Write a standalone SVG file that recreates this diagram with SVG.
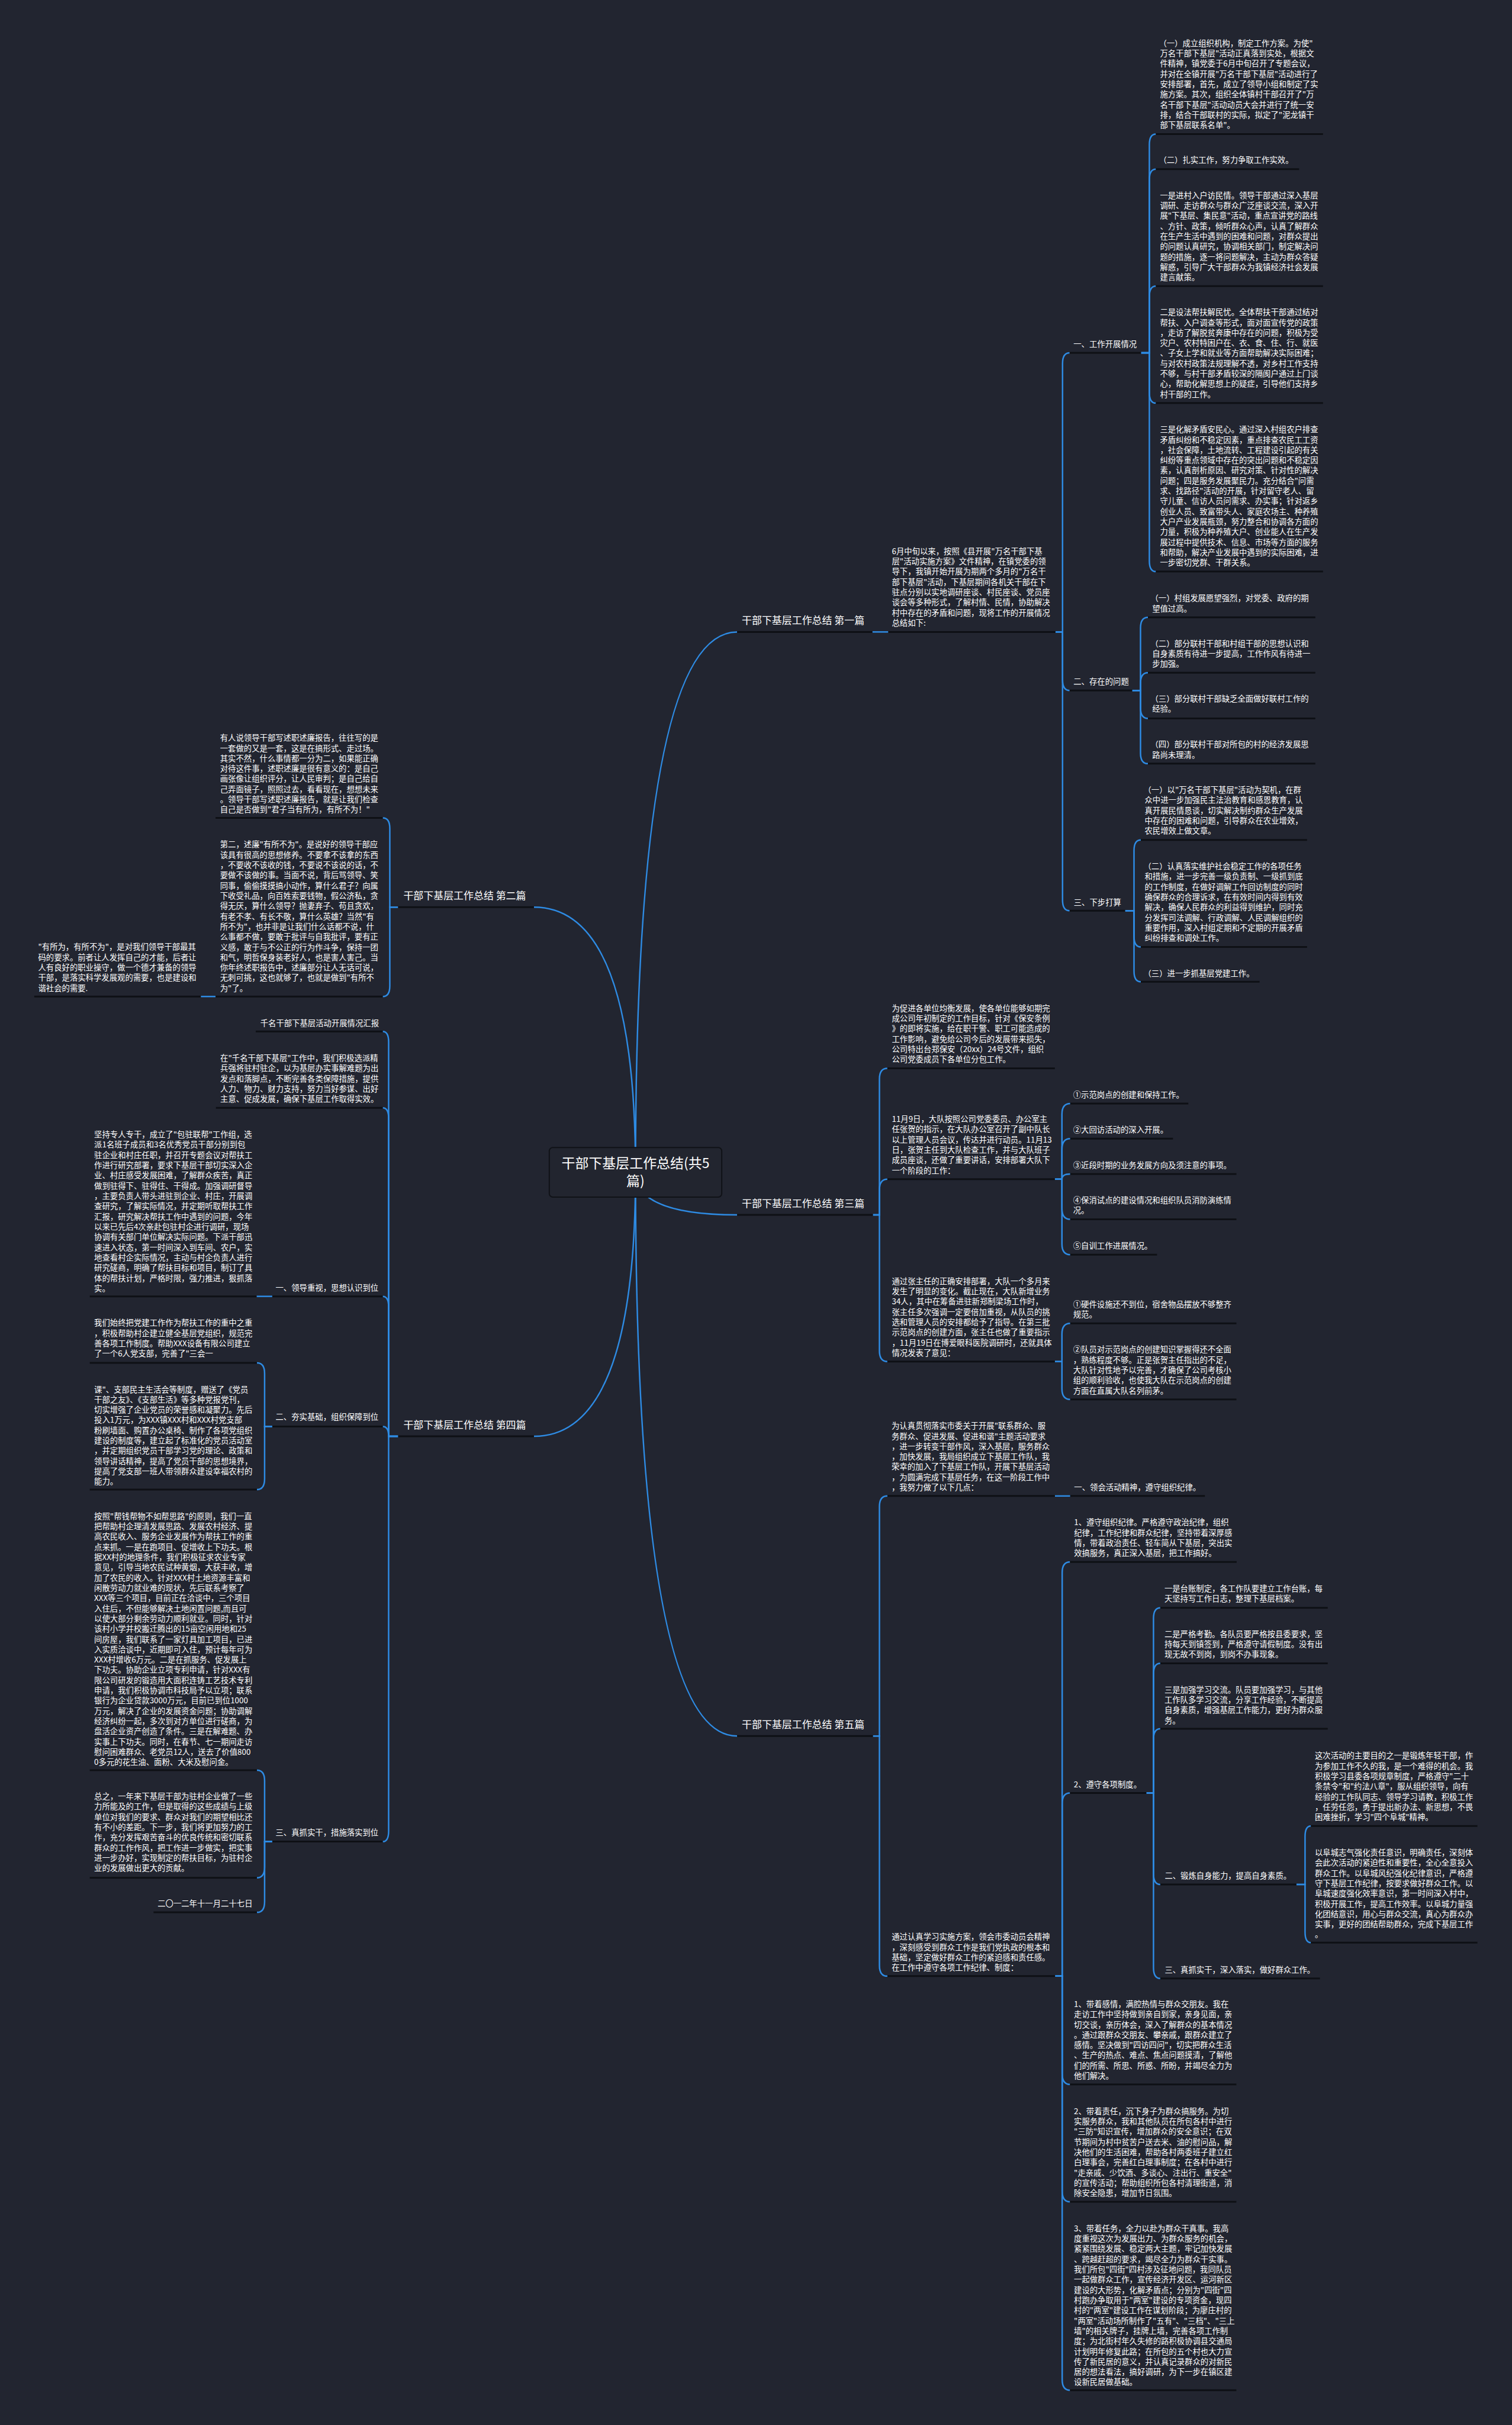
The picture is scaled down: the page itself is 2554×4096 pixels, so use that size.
<svg xmlns="http://www.w3.org/2000/svg" width="2554" height="4096" viewBox="0 0 2554 4096">
<style>
.t{font-family:"Noto Sans CJK SC","Noto Sans",sans-serif;font-size:13.4px;fill:#ffffff}
.l1{font-size:17px}
.rt{font-size:23px}
.ul{stroke:#0e1015;stroke-width:3}
.c{stroke:#2e8be3;stroke-width:2.5;fill:none}
</style>
<rect x="0" y="0" width="2554" height="4096" fill="#222530"/>
<g transform="scale(0.99766 0.99756)">
<g id="connectors">
<path class="c" d="M1076 1985 Q1076 1070 1248 1070"/>
<path class="c" d="M1076 1985 Q1076 2057 1248 2057"/>
<path class="c" d="M1076 1985 Q1076 2939.5 1248 2939.5"/>
<path class="c" d="M1076 1985 Q1076 1536 904 1536"/>
<path class="c" d="M1076 1985 Q1076 2432 904 2432"/>
<path class="c" d="M1477 1070 H1504"/>
<path class="c" d="M1787 1070 H1799 V615.5 Q1799 597.5 1811 597.5"/>
<path class="c" d="M1787 1070 H1799 V1151 Q1799 1169 1811 1169"/>
<path class="c" d="M1787 1070 H1799 V1524 Q1799 1542 1811 1542"/>
<path class="c" d="M1932 597.5 H1946 V245 Q1946 227 1957 227"/>
<path class="c" d="M1932 597.5 H1946 V304.5 Q1946 286.5 1957 286.5"/>
<path class="c" d="M1932 597.5 H1946 V502.5 Q1946 484.5 1957 484.5"/>
<path class="c" d="M1932 597.5 H1946 V664.5 Q1946 682.5 1957 682.5"/>
<path class="c" d="M1932 597.5 H1946 V949.7 Q1946 967.7 1957 967.7"/>
<path class="c" d="M1917 1169 H1931 V1063.3 Q1931 1045.3 1943.6 1045.3"/>
<path class="c" d="M1917 1169 H1931 V1157 Q1931 1139 1943.6 1139"/>
<path class="c" d="M1917 1169 H1931 V1198.4 Q1931 1216.4 1943.6 1216.4"/>
<path class="c" d="M1917 1169 H1931 V1275 Q1931 1293 1943.6 1293"/>
<path class="c" d="M1905 1542 H1920 V1440.3 Q1920 1422.3 1931.5 1422.3"/>
<path class="c" d="M1905 1542 H1920 V1585.3 Q1920 1603.3 1931.5 1603.3"/>
<path class="c" d="M1905 1542 H1920 V1644.3 Q1920 1662.3 1931.5 1662.3"/>
<path class="c" d="M1478 2057 H1489 V1826.8 Q1489 1808.8 1502.4 1808.8"/>
<path class="c" d="M1478 2057 H1489 V2014.6 Q1489 1996.6 1502.4 1996.6"/>
<path class="c" d="M1478 2057 H1489 V2287.3 Q1489 2305.3 1502.4 2305.3"/>
<path class="c" d="M1786 1996.6 H1798 V1886.6 Q1798 1868.6 1812 1868.6"/>
<path class="c" d="M1786 1996.6 H1798 V1946 Q1798 1928 1812 1928"/>
<path class="c" d="M1786 1996.6 H1798 Q1798 1987.9 1812 1987.9"/>
<path class="c" d="M1786 1996.6 H1798 V2046.6 Q1798 2064.6 1812 2064.6"/>
<path class="c" d="M1786 1996.6 H1798 V2106.5 Q1798 2124.5 1812 2124.5"/>
<path class="c" d="M1786 2305.3 H1798 V2258.7 Q1798 2240.7 1812 2240.7"/>
<path class="c" d="M1786 2305.3 H1798 V2351.5 Q1798 2369.5 1812 2369.5"/>
<path class="c" d="M1478 2939.5 H1489 V2551 Q1489 2533 1502.5 2533"/>
<path class="c" d="M1478 2939.5 H1489 V3328 Q1489 3346 1502.5 3346"/>
<path class="c" d="M1786 2533 H1812"/>
<path class="c" d="M1786.4 3346 H1798.4 V2662.8 Q1798.4 2644.8 1811.6 2644.8"/>
<path class="c" d="M1786.4 3346 H1798.4 V3054 Q1798.4 3036 1811.6 3036"/>
<path class="c" d="M1786.4 3346 H1798.4 V3511.4 Q1798.4 3529.4 1811.6 3529.4"/>
<path class="c" d="M1786.4 3346 H1798.4 V3710 Q1798.4 3728 1811.6 3728"/>
<path class="c" d="M1786.4 3346 H1798.4 V4029.2 Q1798.4 4047.2 1811.6 4047.2"/>
<path class="c" d="M1941 3036 H1953 V2740.3 Q1953 2722.3 1964.5 2722.3"/>
<path class="c" d="M1941 3036 H1953 V2834.3 Q1953 2816.3 1964.5 2816.3"/>
<path class="c" d="M1941 3036 H1953 V2945.2 Q1953 2927.2 1964.5 2927.2"/>
<path class="c" d="M1941 3036 H1953 V3172.7 Q1953 3190.7 1964.5 3190.7"/>
<path class="c" d="M1941 3036 H1953 V3332 Q1953 3350 1964.5 3350"/>
<path class="c" d="M2195 3190.7 H2209.6 V3109.7 Q2209.6 3091.7 2219.5 3091.7"/>
<path class="c" d="M2195 3190.7 H2209.6 V3271.3 Q2209.6 3289.3 2219.5 3289.3"/>
<path class="c" d="M674 1536 H660 V1403 Q660 1385 648 1385"/>
<path class="c" d="M674 1536 H660 V1669.3 Q660 1687.3 648 1687.3"/>
<path class="c" d="M365 1687.3 H340"/>
<path class="c" d="M674 2432 H658 V1764.4 Q658 1746.4 648 1746.4"/>
<path class="c" d="M674 2432 H658 V1893.8 Q658 1875.8 648 1875.8"/>
<path class="c" d="M674 2432 H658 V2213 Q658 2195 648 2195"/>
<path class="c" d="M674 2432 H658 Q658 2415.3 648 2415.3"/>
<path class="c" d="M674 2432 H658 V3100.2 Q658 3118.2 648 3118.2"/>
<path class="c" d="M461 2195 H434.4"/>
<path class="c" d="M461 2415.3 H448 V2325.7 Q448 2307.7 435 2307.7"/>
<path class="c" d="M461 2415.3 H448 V2504.2 Q448 2522.2 435 2522.2"/>
<path class="c" d="M461 3118.2 H448 V3015.3 Q448 2997.3 435 2997.3"/>
<path class="c" d="M461 3118.2 H448 V3161.4 Q448 3179.4 435 3179.4"/>
<path class="c" d="M461 3118.2 H448 V3220 Q448 3238 435 3238"/>
</g>

<g id="root">
<rect x="930" y="1943" width="292" height="84" rx="6" fill="#22252f" stroke="#101217" stroke-width="2"/>
<text class="t rt" x="1076" y="1978" text-anchor="middle">干部下基层工作总结(共5</text>
<text class="t rt" x="1076" y="2008" text-anchor="middle">篇)</text>
</g>

<!-- 第一篇 -->
<g id="p1">
<line class="ul" x1="1248" y1="1070" x2="1477" y2="1070"/>
<text class="t l1" x="1256" y="1056.5">干部下基层工作总结 第一篇</text>
</g>
<g id="p1-intro">
<line class="ul" x1="1504" y1="1070" x2="1787" y2="1070"/>
<text class="t" x="1510" y="938"><tspan x="1510" dy="0">6月中旬以来，按照《县开展"万名干部下基</tspan><tspan x="1510" dy="17.35">层"活动实施方案》文件精神，在镇党委的领</tspan><tspan x="1510" dy="17.35">导下，我镇开始开展为期两个多月的"万名干</tspan><tspan x="1510" dy="17.35">部下基层"活动，下基层期间各机关干部在下</tspan><tspan x="1510" dy="17.35">驻点分别以实地调研座谈、村民座谈、党员座</tspan><tspan x="1510" dy="17.35">谈会等多种形式，了解村情、民情，协助解决</tspan><tspan x="1510" dy="17.35">村中存在的矛盾和问题，现将工作的开展情况</tspan><tspan x="1510" dy="17.35">总结如下:</tspan></text>
</g>
<g id="p1-a">
<line class="ul" x1="1811" y1="597.5" x2="1932" y2="597.5"/>
<text class="t" x="1817.5" y="587">一、工作开展情况</text>
</g>
<g id="p1-a1">
<line class="ul" x1="1957" y1="227" x2="2240" y2="227"/>
<text class="t" x="1962" y="78"><tspan x="1962" dy="0">（一）成立组织机构，制定工作方案。为使"</tspan><tspan x="1964" dy="17.35">万名干部下基层"活动正真落到实处，根据文</tspan><tspan x="1964" dy="17.35">件精神，镇党委于6月中旬召开了专题会议，</tspan><tspan x="1964" dy="17.35">并对在全镇开展"万名干部下基层"活动进行了</tspan><tspan x="1964" dy="17.35">安排部署，首先，成立了领导小组和制定了实</tspan><tspan x="1964" dy="17.35">施方案。其次，组织全体镇村干部召开了"万</tspan><tspan x="1964" dy="17.35">名干部下基层"活动动员大会并进行了统一安</tspan><tspan x="1964" dy="17.35">排，结合干部联村的实际，拟定了"泥龙镇干</tspan><tspan x="1964" dy="17.35">部下基层联系名单"。</tspan></text>
</g>
<g id="p1-a2">
<line class="ul" x1="1957" y1="286.5" x2="2199.5" y2="286.5"/>
<text class="t" x="1962" y="276">（二）扎实工作，努力争取工作实效。</text>
</g>
<g id="p1-a3">
<line class="ul" x1="1957" y1="484.5" x2="2240" y2="484.5"/>
<text class="t" x="1964" y="335.5"><tspan x="1964" dy="0">一是进村入户访民情。领导干部通过深入基层</tspan><tspan x="1964" dy="17.35">调研、走访群众与群众广泛座谈交流，深入开</tspan><tspan x="1964" dy="17.35">展"下基层、集民意"活动，重点宣讲党的路线</tspan><tspan x="1964" dy="17.35">、方针、政策，倾听群众心声，认真了解群众</tspan><tspan x="1964" dy="17.35">在生产生活中遇到的困难和问题，对群众提出</tspan><tspan x="1964" dy="17.35">的问题认真研究，协调相关部门，制定解决问</tspan><tspan x="1964" dy="17.35">题的措施，逐一将问题解决，主动为群众答疑</tspan><tspan x="1964" dy="17.35">解惑，引导广大干部群众为我镇经济社会发展</tspan><tspan x="1964" dy="17.35">建言献策。</tspan></text>
</g>
<g id="p1-a4">
<line class="ul" x1="1957" y1="682.5" x2="2240" y2="682.5"/>
<text class="t" x="1964" y="533.5"><tspan x="1964" dy="0">二是设法帮扶解民忧。全体帮扶干部通过结对</tspan><tspan x="1964" dy="17.35">帮扶、入户调查等形式，面对面宣传党的政策</tspan><tspan x="1964" dy="17.35">，走访了解脱贫奔康中存在的问题，积极为受</tspan><tspan x="1964" dy="17.35">灾户、农村特困户在、衣、食、住、行、就医</tspan><tspan x="1964" dy="17.35">、子女上学和就业等方面帮助解决实际困难；</tspan><tspan x="1964" dy="17.35">与对农村政策法规理解不透，对乡村工作支持</tspan><tspan x="1964" dy="17.35">不够，与村干部矛盾较深的隔阂户通过上门谈</tspan><tspan x="1964" dy="17.35">心，帮助化解思想上的疑症，引导他们支持乡</tspan><tspan x="1964" dy="17.35">村干部的工作。</tspan></text>
</g>
<g id="p1-a5">
<line class="ul" x1="1957" y1="967.7" x2="2240" y2="967.7"/>
<text class="t" x="1964" y="732"><tspan x="1964" dy="0">三是化解矛盾安民心。通过深入村组农户排查</tspan><tspan x="1964" dy="17.35">矛盾纠纷和不稳定因素，重点排查农民工工资</tspan><tspan x="1964" dy="17.35">，社会保障，土地流转、工程建设引起的有关</tspan><tspan x="1964" dy="17.35">纠纷等重点领域中存在的突出问题和不稳定因</tspan><tspan x="1964" dy="17.35">素，认真剖析原因、研究对策、针对性的解决</tspan><tspan x="1964" dy="17.35">问题；四是服务发展聚民力。充分结合"问需</tspan><tspan x="1964" dy="17.35">求、找路径"活动的开展，针对留守老人、留</tspan><tspan x="1964" dy="17.35">守儿童、信访人员问需求、办实事；针对返乡</tspan><tspan x="1964" dy="17.35">创业人员、致富带头人、家庭农场主、种养殖</tspan><tspan x="1964" dy="17.35">大户产业发展瓶颈，努力整合和协调各方面的</tspan><tspan x="1964" dy="17.35">力量，积极为种养殖大户、创业能人在生产发</tspan><tspan x="1964" dy="17.35">展过程中提供技术、信息、市场等方面的服务</tspan><tspan x="1964" dy="17.35">和帮助，解决产业发展中遇到的实际困难，进</tspan><tspan x="1964" dy="17.35">一步密切党群、干群关系。</tspan></text>
</g>
<g id="p1-b">
<line class="ul" x1="1811" y1="1169" x2="1917" y2="1169"/>
<text class="t" x="1817.5" y="1159">二、存在的问题</text>
</g>
<g id="p1-b1">
<line class="ul" x1="1943.6" y1="1045.3" x2="2227" y2="1045.3"/>
<text class="t" x="1948" y="1017.8"><tspan x="1948" dy="0">（一）村组发展愿望强烈，对党委、政府的期</tspan><tspan x="1950.7" dy="17.35">望值过高。</tspan></text>
</g>
<g id="p1-b2">
<line class="ul" x1="1943.6" y1="1139" x2="2227" y2="1139"/>
<text class="t" x="1948" y="1094.3"><tspan x="1948" dy="0">（二）部分联村干部和村组干部的思想认识和</tspan><tspan x="1950.7" dy="17.35">自身素质有待进一步提高，工作作风有待进一</tspan><tspan x="1950.7" dy="17.35">步加强。</tspan></text>
</g>
<g id="p1-b3">
<line class="ul" x1="1943.6" y1="1216.4" x2="2227" y2="1216.4"/>
<text class="t" x="1948" y="1188"><tspan x="1948" dy="0">（三）部分联村干部缺乏全面做好联村工作的</tspan><tspan x="1950.7" dy="17.35">经验。</tspan></text>
</g>
<g id="p1-b4">
<line class="ul" x1="1943.6" y1="1293" x2="2227" y2="1293"/>
<text class="t" x="1948" y="1265.4"><tspan x="1948" dy="0">（四）部分联村干部对所包的村的经济发展思</tspan><tspan x="1950.7" dy="17.35">路尚未理清。</tspan></text>
</g>
<g id="p1-c">
<line class="ul" x1="1811" y1="1542" x2="1905" y2="1542"/>
<text class="t" x="1818" y="1532.5">三、下步打算</text>
</g>
<g id="p1-c1">
<line class="ul" x1="1931.5" y1="1422.3" x2="2213" y2="1422.3"/>
<text class="t" x="1936" y="1342.3"><tspan x="1936" dy="0">（一）以"万名干部下基层"活动为契机，在群</tspan><tspan x="1938" dy="17.35">众中进一步加强民主法治教育和感恩教育，认</tspan><tspan x="1938" dy="17.35">真开展民情恳谈，切实解决制约群众生产发展</tspan><tspan x="1938" dy="17.35">中存在的困难和问题，引导群众在农业增效，</tspan><tspan x="1938" dy="17.35">农民增效上做文章。</tspan></text>
</g>
<g id="p1-c2">
<line class="ul" x1="1931.5" y1="1603.3" x2="2213" y2="1603.3"/>
<text class="t" x="1936" y="1471.7"><tspan x="1936" dy="0">（二）认真落实维护社会稳定工作的各项任务</tspan><tspan x="1938" dy="17.35">和措施，进一步完善一级负责制、一级抓到底</tspan><tspan x="1938" dy="17.35">的工作制度，在做好调解工作回访制度的同时</tspan><tspan x="1938" dy="17.35">确保群众的合理诉求，在有效时间内得到有效</tspan><tspan x="1938" dy="17.35">解决，确保人民群众的利益得到维护，同时充</tspan><tspan x="1938" dy="17.35">分发挥司法调解、行政调解、人民调解组织的</tspan><tspan x="1938" dy="17.35">重要作用，深入村组定期和不定期的开展矛盾</tspan><tspan x="1938" dy="17.35">纠纷排查和调处工作。</tspan></text>
</g>
<g id="p1-c3">
<line class="ul" x1="1931.5" y1="1662.3" x2="2132.6" y2="1662.3"/>
<text class="t" x="1936" y="1652.7">（三）进一步抓基层党建工作。</text>
</g>

<!-- 第三篇 -->
<g id="p3">
<line class="ul" x1="1248" y1="2057" x2="1478" y2="2057"/>
<text class="t l1" x="1256" y="2043.5">干部下基层工作总结 第三篇</text>
</g>
<g id="p3-a">
<line class="ul" x1="1502.4" y1="1808.8" x2="1786" y2="1808.8"/>
<text class="t" x="1510" y="1711.9"><tspan x="1510" dy="0">为促进各单位均衡发展，使各单位能够如期完</tspan><tspan x="1510" dy="17.35">成公司年初制定的工作目标，针对《保安条例</tspan><tspan x="1510" dy="17.35">》的即将实施，给在职干警、职工可能造成的</tspan><tspan x="1510" dy="17.35">工作影响，避免给公司今后的发展带来损失，</tspan><tspan x="1510" dy="17.35">公司特出台郑保安（20xx）24号文件，组织</tspan><tspan x="1510" dy="17.35">公司党委成员下各单位分包工作。</tspan></text>
</g>
<g id="p3-b">
<line class="ul" x1="1502.4" y1="1996.6" x2="1786" y2="1996.6"/>
<text class="t" x="1510" y="1899.7"><tspan x="1510" dy="0">11月9日，大队按照公司党委委员、办公室主</tspan><tspan x="1510" dy="17.35">任张贺的指示，在大队办公室召开了副中队长</tspan><tspan x="1510" dy="17.35">以上管理人员会议，传达并进行动员。11月13</tspan><tspan x="1510" dy="17.35">日，张贺主任到大队检查工作，并与大队班子</tspan><tspan x="1510" dy="17.35">成员座谈，还做了重要讲话，安排部署大队下</tspan><tspan x="1510" dy="17.35">一个阶段的工作：</tspan></text>
</g>
<g id="p3-b1">
<line class="ul" x1="1812" y1="1868.6" x2="2012" y2="1868.6"/>
<text class="t" x="1817" y="1858.5">①示范岗点的创建和保持工作。</text>
</g>
<g id="p3-b2">
<line class="ul" x1="1812" y1="1928" x2="1986" y2="1928"/>
<text class="t" x="1817" y="1917.9">②大回访活动的深入开展。</text>
</g>
<g id="p3-b3">
<line class="ul" x1="1812" y1="1987.9" x2="2093.4" y2="1987.9"/>
<text class="t" x="1817" y="1977.7">③近段时期的业务发展方向及须注意的事项。</text>
</g>
<g id="p3-b4">
<line class="ul" x1="1812" y1="2064.6" x2="2093.4" y2="2064.6"/>
<text class="t" x="1817" y="2037"><tspan x="1817" dy="0">④保消试点的建设情况和组织队员消防演练情</tspan><tspan x="1817" dy="17.35">况。</tspan></text>
</g>
<g id="p3-b5">
<line class="ul" x1="1812" y1="2124.5" x2="1959" y2="2124.5"/>
<text class="t" x="1817" y="2114.3">⑤自训工作进展情况。</text>
</g>
<g id="p3-c">
<line class="ul" x1="1502.4" y1="2305.3" x2="1786" y2="2305.3"/>
<text class="t" x="1510" y="2174.2"><tspan x="1510" dy="0">通过张主任的正确安排部署，大队一个多月来</tspan><tspan x="1510" dy="17.35">发生了明显的变化。截止现在，大队新增业务</tspan><tspan x="1510" dy="17.35">34人，其中在筹备进驻新郑制梁场工作时，</tspan><tspan x="1510" dy="17.35">张主任多次强调一定要倍加重视，从队员的挑</tspan><tspan x="1510" dy="17.35">选和管理人员的安排都给予了指导。在第三批</tspan><tspan x="1510" dy="17.35">示范岗点的创建方面，张主任也做了重要指示</tspan><tspan x="1510" dy="17.35">，11月19日在博爱眼科医院调研时，还就具体</tspan><tspan x="1510" dy="17.35">情况发表了意见：</tspan></text>
</g>
<g id="p3-c1">
<line class="ul" x1="1812" y1="2240.7" x2="2093.4" y2="2240.7"/>
<text class="t" x="1817" y="2213.2"><tspan x="1817" dy="0">①硬件设施还不到位，宿舍物品摆放不够整齐</tspan><tspan x="1817" dy="17.35">规范。</tspan></text>
</g>
<g id="p3-c2">
<line class="ul" x1="1812" y1="2369.5" x2="2093.4" y2="2369.5"/>
<text class="t" x="1817" y="2290"><tspan x="1817" dy="0">②队员对示范岗点的创建知识掌握得还不全面</tspan><tspan x="1817" dy="17.35">，熟练程度不够。正是张贺主任指出的不足，</tspan><tspan x="1817" dy="17.35">大队针对性地予以完善，才确保了公司考核小</tspan><tspan x="1817" dy="17.35">组的顺利验收，也使我大队在示范岗点的创建</tspan><tspan x="1817" dy="17.35">方面在直属大队名列前茅。</tspan></text>
</g>

<!-- 第五篇 -->
<g id="p5">
<line class="ul" x1="1248" y1="2939.5" x2="1478" y2="2939.5"/>
<text class="t l1" x="1256" y="2926">干部下基层工作总结 第五篇</text>
</g>
<g id="p5-a">
<line class="ul" x1="1502.5" y1="2533" x2="1786" y2="2533"/>
<text class="t" x="1509.5" y="2419.1"><tspan x="1509.5" dy="0">为认真贯彻落实市委关于开展"联系群众、服</tspan><tspan x="1509.5" dy="17.35">务群众、促进发展、促进和谐"主题活动要求</tspan><tspan x="1509.5" dy="17.35">，进一步转变干部作风，深入基层，服务群众</tspan><tspan x="1509.5" dy="17.35">，加快发展，我局组织成立下基层工作队，我</tspan><tspan x="1509.5" dy="17.35">荣幸的加入了下基层工作队，开展下基层活动</tspan><tspan x="1509.5" dy="17.35">，为圆满完成下基层任务，在这一阶段工作中</tspan><tspan x="1509.5" dy="17.35">，我努力做了以下几点：</tspan></text>
</g>
<g id="p5-a1">
<line class="ul" x1="1812" y1="2533" x2="2040" y2="2533"/>
<text class="t" x="1818.6" y="2523.5">一、领会活动精神，遵守组织纪律。</text>
</g>
<g id="p5-b">
<line class="ul" x1="1502.5" y1="3346" x2="1786.4" y2="3346"/>
<text class="t" x="1509.8" y="3284.3"><tspan x="1509.8" dy="0">通过认真学习实施方案，领会市委动员会精神</tspan><tspan x="1509.8" dy="17.35">，深刻感受到群众工作是我们党执政的根本和</tspan><tspan x="1509.8" dy="17.35">基础，坚定做好群众工作的紧迫感和责任感。</tspan><tspan x="1509.8" dy="17.35">在工作中遵守各项工作纪律、制度：</tspan></text>
</g>
<g id="p5-b1">
<line class="ul" x1="1811.6" y1="2644.8" x2="2093.8" y2="2644.8"/>
<text class="t" x="1818.5" y="2582.7"><tspan x="1818.5" dy="0">1、遵守组织纪律。严格遵守政治纪律，组织</tspan><tspan x="1818.5" dy="17.35">纪律，工作纪律和群众纪律，坚持带着深厚感</tspan><tspan x="1818.5" dy="17.35">情，带着政治责任、轻车简从下基层，突出实</tspan><tspan x="1818.5" dy="17.35">效搞服务，真正深入基层，把工作搞好。</tspan></text>
</g>
<g id="p5-b2">
<line class="ul" x1="1811.6" y1="3036" x2="1941" y2="3036"/>
<text class="t" x="1818" y="3026">2、遵守各项制度。</text>
</g>
<g id="p5-b2a">
<line class="ul" x1="1964.5" y1="2722.3" x2="2248" y2="2722.3"/>
<text class="t" x="1971.5" y="2694.6"><tspan x="1971.5" dy="0">一是台账制定，各工作队要建立工作台账，每</tspan><tspan x="1971.5" dy="17.35">天坚持写工作日志，整理下基层档案。</tspan></text>
</g>
<g id="p5-b2b">
<line class="ul" x1="1964.5" y1="2816.3" x2="2248" y2="2816.3"/>
<text class="t" x="1971.5" y="2771.4"><tspan x="1971.5" dy="0">二是严格考勤。各队员要严格按县委要求，坚</tspan><tspan x="1971.5" dy="17.35">持每天到镇签到，严格遵守请假制度。没有出</tspan><tspan x="1971.5" dy="17.35">现无故不到岗，到岗不办事现象。</tspan></text>
</g>
<g id="p5-b2c">
<line class="ul" x1="1964.5" y1="2927.2" x2="2248" y2="2927.2"/>
<text class="t" x="1971.5" y="2865.7"><tspan x="1971.5" dy="0">三是加强学习交流。队员要加强学习，与其他</tspan><tspan x="1971.5" dy="17.35">工作队多学习交流，分享工作经验，不断提高</tspan><tspan x="1971.5" dy="17.35">自身素质，增强基层工作能力，更好为群众服</tspan><tspan x="1971.5" dy="17.35">务。</tspan></text>
</g>
<g id="p5-b2d">
<line class="ul" x1="1964.5" y1="3190.7" x2="2195" y2="3190.7"/>
<text class="t" x="1972" y="3181">二、锻炼自身能力，提高自身素质。</text>
</g>
<g id="p5-b2d1">
<line class="ul" x1="2219.5" y1="3091.7" x2="2501.4" y2="3091.7"/>
<text class="t" x="2226.2" y="2977.7"><tspan x="2226.2" dy="0">这次活动的主要目的之一是锻炼年轻干部，作</tspan><tspan x="2226.2" dy="17.35">为参加工作不久的我，是一个难得的机会。我</tspan><tspan x="2226.2" dy="17.35">积极学习县委各项规章制度，严格遵守"二十</tspan><tspan x="2226.2" dy="17.35">条禁令"和"约法八章"，服从组织领导，向有</tspan><tspan x="2226.2" dy="17.35">经验的工作队同志、领导学习请教，积极工作</tspan><tspan x="2226.2" dy="17.35">，任劳任怨，勇于提出新办法、新思想，不畏</tspan><tspan x="2226.2" dy="17.35">困难挫折，学习"四个阜城"精神。</tspan></text>
</g>
<g id="p5-b2d2">
<line class="ul" x1="2219.5" y1="3289.3" x2="2501.4" y2="3289.3"/>
<text class="t" x="2226.2" y="3141.7"><tspan x="2226.2" dy="0">以阜城志气强化责任意识，明确责任，深刻体</tspan><tspan x="2226.2" dy="17.35">会此次活动的紧迫性和重要性，全心全意投入</tspan><tspan x="2226.2" dy="17.35">群众工作。以阜城风纪强化纪律意识，严格遵</tspan><tspan x="2226.2" dy="17.35">守下基层工作纪律，按要求做好群众工作。以</tspan><tspan x="2226.2" dy="17.35">阜城速度强化效率意识，第一时间深入村中，</tspan><tspan x="2226.2" dy="17.35">积极开展工作，提高工作效率。以阜城力量强</tspan><tspan x="2226.2" dy="17.35">化团结意识，用心与群众交流，真心为群众办</tspan><tspan x="2226.2" dy="17.35">实事，更好的团结帮助群众，完成下基层工作</tspan><tspan x="2226.2" dy="17.35">。</tspan></text>
</g>
<g id="p5-b2e">
<line class="ul" x1="1964.5" y1="3350" x2="2234.8" y2="3350"/>
<text class="t" x="1972" y="3340">三、真抓实干，深入落实，做好群众工作。</text>
</g>
<g id="p5-b3">
<line class="ul" x1="1811.6" y1="3529.4" x2="2093.3" y2="3529.4"/>
<text class="t" x="1818.3" y="3398.2"><tspan x="1818.3" dy="0">1、带着感情，满腔热情与群众交朋友。我在</tspan><tspan x="1818.3" dy="17.35">走访工作中坚持做到亲自到家，亲身见面，亲</tspan><tspan x="1818.3" dy="17.35">切交谈，亲历体会，深入了解群众的基本情况</tspan><tspan x="1818.3" dy="17.35">。通过跟群众交朋友、攀亲戚，跟群众建立了</tspan><tspan x="1818.3" dy="17.35">感情。坚决做到"四访四问"，切实把群众生活</tspan><tspan x="1818.3" dy="17.35">、生产的热点、难点、焦点问题摸清，了解他</tspan><tspan x="1818.3" dy="17.35">们的所需、所思、所惑、所盼，并竭尽全力为</tspan><tspan x="1818.3" dy="17.35">他们解决。</tspan></text>
</g>
<g id="p5-b4">
<line class="ul" x1="1811.6" y1="3728" x2="2093.3" y2="3728"/>
<text class="t" x="1818.3" y="3579.5"><tspan x="1818.3" dy="0">2、带着责任，沉下身子为群众搞服务。为切</tspan><tspan x="1818.3" dy="17.35">实服务群众，我和其他队员在所包各村中进行</tspan><tspan x="1818.3" dy="17.35">"三防"知识宣传，增加群众的安全意识；在双</tspan><tspan x="1818.3" dy="17.35">节期间为村中贫苦户送去米、油的慰问品，解</tspan><tspan x="1818.3" dy="17.35">决他们的生活困难，帮助各村两委班子建立红</tspan><tspan x="1818.3" dy="17.35">白理事会，完善红白理事制度；在各村中进行</tspan><tspan x="1818.3" dy="17.35">"走亲戚、少饮酒、多谈心、注出行、重安全"</tspan><tspan x="1818.3" dy="17.35">的宣传活动；帮助组织所包各村清理街道，消</tspan><tspan x="1818.3" dy="17.35">除安全隐患，增加节日氛围。</tspan></text>
</g>
<g id="p5-b5">
<line class="ul" x1="1811.6" y1="4047.2" x2="2093.3" y2="4047.2"/>
<text class="t" x="1818.3" y="3778.1"><tspan x="1818.3" dy="0">3、带着任务，全力以赴为群众干真事。我高</tspan><tspan x="1818.3" dy="17.35">度重视这次为发展出力、为群众服务的机会，</tspan><tspan x="1818.3" dy="17.35">紧紧围绕发展、稳定两大主题，牢记加快发展</tspan><tspan x="1818.3" dy="17.35">、跨越赶超的要求，竭尽全力为群众干实事。</tspan><tspan x="1818.3" dy="17.35">我们所包"四街"四村涉及征地问题，我同队员</tspan><tspan x="1818.3" dy="17.35">一起做群众工作，宣传经济开发区、运河新区</tspan><tspan x="1818.3" dy="17.35">建设的大形势，化解矛盾点；分别为"四街"四</tspan><tspan x="1818.3" dy="17.35">村跑办争取用于"两室"建设的专项资金，现四</tspan><tspan x="1818.3" dy="17.35">村的"两室"建设工作在谋划阶段；为廖庄村的</tspan><tspan x="1818.3" dy="17.35">"两室"活动场所制作了"五有"、"三档"、"三上</tspan><tspan x="1818.3" dy="17.35">墙"的相关牌子，挂牌上墙，完善各项工作制</tspan><tspan x="1818.3" dy="17.35">度；为北街村年久失修的路积极协调县交通局</tspan><tspan x="1818.3" dy="17.35">计划明年修复此路；在所包的五个村也大力宣</tspan><tspan x="1818.3" dy="17.35">传了新民居的意义，并认真记录群众的对新民</tspan><tspan x="1818.3" dy="17.35">居的想法看法，搞好调研，为下一步在镇区建</tspan><tspan x="1818.3" dy="17.35">设新民居做基础。</tspan></text>
</g>

<!-- 第二篇 -->
<g id="p2">
<line class="ul" x1="674" y1="1536" x2="904" y2="1536"/>
<text class="t l1" x="683" y="1522.5">干部下基层工作总结 第二篇</text>
</g>
<g id="p2-a">
<line class="ul" x1="365" y1="1385" x2="648" y2="1385"/>
<text class="t" x="372.6" y="1254.3"><tspan x="372.6" dy="0">有人说领导干部写述职述廉报告，往往写的是</tspan><tspan x="372.6" dy="17.35">一套做的又是一套，这是在搞形式、走过场。</tspan><tspan x="372.6" dy="17.35">其实不然，什么事情都一分为二，如果能正确</tspan><tspan x="372.6" dy="17.35">对待这件事，述职述廉是很有意义的：是自己</tspan><tspan x="372.6" dy="17.35">画张像让组织评分，让人民审判；是自己给自</tspan><tspan x="372.6" dy="17.35">己弄面镜子，照照过去，看看现在，想想未来</tspan><tspan x="372.6" dy="17.35">。领导干部写述职述廉报告，就是让我们检查</tspan><tspan x="372.6" dy="17.35">自己是否做到"君子当有所为，有所不为！"</tspan></text>
</g>
<g id="p2-b">
<line class="ul" x1="365" y1="1687.3" x2="648" y2="1687.3"/>
<text class="t" x="372.6" y="1435"><tspan x="372.6" dy="0">第二，述廉"有所不为"。是说好的领导干部应</tspan><tspan x="372.6" dy="17.35">该具有很高的思想修养。不要拿不该拿的东西</tspan><tspan x="372.6" dy="17.35">，不要收不该收的钱，不要说不该说的话，不</tspan><tspan x="372.6" dy="17.35">要做不该做的事。当面不说，背后骂领导、笑</tspan><tspan x="372.6" dy="17.35">同事，偷偷摸摸搞小动作，算什么君子？向属</tspan><tspan x="372.6" dy="17.35">下收受礼品，向百姓索要钱物，假公济私，贪</tspan><tspan x="372.6" dy="17.35">得无厌，算什么领导？抛妻弃子、苟且贪欢，</tspan><tspan x="372.6" dy="17.35">有老不孝、有长不敬，算什么英雄？当然"有</tspan><tspan x="372.6" dy="17.35">所不为"，也并非是让我们什么话都不说，什</tspan><tspan x="372.6" dy="17.35">么事都不做，要敢于批评与自我批评，要有正</tspan><tspan x="372.6" dy="17.35">义感，敢于与不公正的行为作斗争，保持一团</tspan><tspan x="372.6" dy="17.35">和气，明哲保身装老好人，也是害人害己。当</tspan><tspan x="372.6" dy="17.35">你年终述职报告中，述廉部分让人无话可说，</tspan><tspan x="372.6" dy="17.35">无刺可挑，这也就够了，也就是做到"有所不</tspan><tspan x="372.6" dy="17.35">为"了。</tspan></text>
</g>
<g id="p2-b1">
<line class="ul" x1="58" y1="1687.3" x2="340" y2="1687.3"/>
<text class="t" x="64.6" y="1608.3"><tspan x="64.6" dy="0">"有所为，有所不为"，是对我们领导干部最其</tspan><tspan x="64.6" dy="17.35">码的要求。前者让人发挥自己的才能，后者让</tspan><tspan x="64.6" dy="17.35">人有良好的职业操守，做一个德才兼备的领导</tspan><tspan x="64.6" dy="17.35">干部，是落实科学发展观的需要，也是建设和</tspan><tspan x="64.6" dy="17.35">谐社会的需要.</tspan></text>
</g>

<!-- 第四篇 -->
<g id="p4">
<line class="ul" x1="674" y1="2432" x2="904" y2="2432"/>
<text class="t l1" x="683" y="2418.5">干部下基层工作总结 第四篇</text>
</g>
<g id="p4-a">
<line class="ul" x1="433" y1="1746.4" x2="648" y2="1746.4"/>
<text class="t" x="440.7" y="1736.8">千名干部下基层活动开展情况汇报</text>
</g>
<g id="p4-b">
<line class="ul" x1="365.6" y1="1875.8" x2="648" y2="1875.8"/>
<text class="t" x="373" y="1796.4"><tspan x="373" dy="0">在"千名干部下基层"工作中，我们积极选派精</tspan><tspan x="373" dy="17.35">兵强将驻村驻企，以为基层办实事解难题为出</tspan><tspan x="373" dy="17.35">发点和落脚点，不断完善各类保障措施，提供</tspan><tspan x="373" dy="17.35">人力、物力、财力支持，努力当好参谋、出好</tspan><tspan x="373" dy="17.35">主意、促成发展，确保下基层工作取得实效。</tspan></text>
</g>
<g id="p4-c">
<line class="ul" x1="461" y1="2195" x2="648" y2="2195"/>
<text class="t" x="466.6" y="2185.2">一、领导重视，思想认识到位</text>
</g>
<g id="p4-c1">
<line class="ul" x1="152" y1="2195" x2="434.4" y2="2195"/>
<text class="t" x="159.5" y="1925.9"><tspan x="159.5" dy="0">坚持专人专干，成立了"包驻联帮"工作组，选</tspan><tspan x="159.5" dy="17.35">派1名班子成员和3名优秀党员干部分别到包</tspan><tspan x="159.5" dy="17.35">驻企业和村庄任职，并召开专题会议对帮扶工</tspan><tspan x="159.5" dy="17.35">作进行研究部署，要求下基层干部切实深入企</tspan><tspan x="159.5" dy="17.35">业、村庄感受发展困难，了解群众疾苦，真正</tspan><tspan x="159.5" dy="17.35">做到驻得下、驻得住、干得成。加强调研督导</tspan><tspan x="159.5" dy="17.35">，主要负责人带头进驻到企业、村庄，开展调</tspan><tspan x="159.5" dy="17.35">查研究，了解实际情况，并定期听取帮扶工作</tspan><tspan x="159.5" dy="17.35">汇报，研究解决帮扶工作中遇到的问题，今年</tspan><tspan x="159.5" dy="17.35">以来已先后4次亲赴包驻村企进行调研，现场</tspan><tspan x="159.5" dy="17.35">协调有关部门单位解决实际问题。下派干部迅</tspan><tspan x="159.5" dy="17.35">速进入状态，第一时间深入到车间、农户，实</tspan><tspan x="159.5" dy="17.35">地查看村企实际情况，主动与村企负责人进行</tspan><tspan x="159.5" dy="17.35">研究磋商，明确了帮扶目标和项目，制订了具</tspan><tspan x="159.5" dy="17.35">体的帮扶计划，严格时限，强力推进，狠抓落</tspan><tspan x="159.5" dy="17.35">实。</tspan></text>
</g>
<g id="p4-d">
<line class="ul" x1="461" y1="2415.3" x2="648" y2="2415.3"/>
<text class="t" x="466.6" y="2404.3">二、夯实基础，组织保障到位</text>
</g>
<g id="p4-d1">
<line class="ul" x1="152" y1="2307.7" x2="435" y2="2307.7"/>
<text class="t" x="159.5" y="2244.8"><tspan x="159.5" dy="0">我们始终把党建工作作为帮扶工作的重中之重</tspan><tspan x="159.5" dy="17.35">，积极帮助村企建立健全基层党组织，规范完</tspan><tspan x="159.5" dy="17.35">善各项工作制度。帮助XXX设备有限公司建立</tspan><tspan x="159.5" dy="17.35">了一个6人党支部，完善了"三会一</tspan></text>
</g>
<g id="p4-d2">
<line class="ul" x1="152" y1="2522.2" x2="435" y2="2522.2"/>
<text class="t" x="159.5" y="2357.3"><tspan x="159.5" dy="0">课"、支部民主生活会等制度，赠送了《党员</tspan><tspan x="159.5" dy="17.35">干部之友》、《支部生活》等多种党报党刊，</tspan><tspan x="159.5" dy="17.35">切实增强了企业党员的荣誉感和凝聚力。先后</tspan><tspan x="159.5" dy="17.35">投入1万元，为XXX镇XXX村和XXX村党支部</tspan><tspan x="159.5" dy="17.35">粉刷墙面、购置办公桌椅、制作了各项党组织</tspan><tspan x="159.5" dy="17.35">建设的制度等，建立起了标准化的党员活动室</tspan><tspan x="159.5" dy="17.35">，并定期组织党员干部学习党的理论、政策和</tspan><tspan x="159.5" dy="17.35">领导讲话精神，提高了党员干部的思想境界，</tspan><tspan x="159.5" dy="17.35">提高了党支部一班人带领群众建设幸福农村的</tspan><tspan x="159.5" dy="17.35">能力。</tspan></text>
</g>
<g id="p4-e">
<line class="ul" x1="461" y1="3118.2" x2="648" y2="3118.2"/>
<text class="t" x="466.6" y="3107.9">三、真抓实干，措施落实到位</text>
</g>
<g id="p4-e1">
<line class="ul" x1="152" y1="2997.3" x2="435" y2="2997.3"/>
<text class="t" x="159.5" y="2572.1"><tspan x="159.5" dy="0">按照"帮钱帮物不如帮思路"的原则，我们一直</tspan><tspan x="159.5" dy="17.35">把帮助村企理清发展思路、发展农村经济、提</tspan><tspan x="159.5" dy="17.35">高农民收入、服务企业发展作为帮扶工作的重</tspan><tspan x="159.5" dy="17.35">点来抓。一是在跑项目、促增收上下功夫。根</tspan><tspan x="159.5" dy="17.35">据XX村的地理条件，我们积极征求农业专家</tspan><tspan x="159.5" dy="17.35">意见，引导当地农民试种黄烟，大获丰收，增</tspan><tspan x="159.5" dy="17.35">加了农民的收入。针对XXX村土地资源丰富和</tspan><tspan x="159.5" dy="17.35">闲散劳动力就业难的现状，先后联系考察了</tspan><tspan x="159.5" dy="17.35">XXX等三个项目，目前正在洽谈中，三个项目</tspan><tspan x="159.5" dy="17.35">入住后，不但能够解决土地闲置问题,而且可</tspan><tspan x="159.5" dy="17.35">以使大部分剩余劳动力顺利就业。同时，针对</tspan><tspan x="159.5" dy="17.35">该村小学并校搬迁腾出的15亩空闲用地和25</tspan><tspan x="159.5" dy="17.35">间房屋，我们联系了一家灯具加工项目，已进</tspan><tspan x="159.5" dy="17.35">入实质洽谈中，近期即可入住，预计每年可为</tspan><tspan x="159.5" dy="17.35">XXX村增收6万元。二是在抓服务、促发展上</tspan><tspan x="159.5" dy="17.35">下功夫。协助企业立项专利申请，针对XXX有</tspan><tspan x="159.5" dy="17.35">限公司研发的锻造用大面积连铸工艺技术专利</tspan><tspan x="159.5" dy="17.35">申请，我们积极协调市科技局予以立项；联系</tspan><tspan x="159.5" dy="17.35">银行为企业贷款3000万元，目前已到位1000</tspan><tspan x="159.5" dy="17.35">万元，解决了企业的发展资金问题；协助调解</tspan><tspan x="159.5" dy="17.35">经济纠纷一起，多次到对方单位进行磋商，为</tspan><tspan x="159.5" dy="17.35">盘活企业资产创造了条件。三是在解难题、办</tspan><tspan x="159.5" dy="17.35">实事上下功夫。同时，在春节、七一期间走访</tspan><tspan x="159.5" dy="17.35">慰问困难群众、老党员12人，送去了价值800</tspan><tspan x="159.5" dy="17.35">0多元的花生油、面粉、大米及慰问金。</tspan></text>
</g>
<g id="p4-e2">
<line class="ul" x1="152" y1="3179.4" x2="435" y2="3179.4"/>
<text class="t" x="159.5" y="3046.6"><tspan x="159.5" dy="0">总之，一年来下基层干部为驻村企业做了一些</tspan><tspan x="159.5" dy="17.35">力所能及的工作，但是取得的这些成绩与上级</tspan><tspan x="159.5" dy="17.35">单位对我们的要求、群众对我们的期望相比还</tspan><tspan x="159.5" dy="17.35">有不小的差距。下一步，我们将更加努力的工</tspan><tspan x="159.5" dy="17.35">作，充分发挥艰苦奋斗的优良传统和密切联系</tspan><tspan x="159.5" dy="17.35">群众的工作作风，把工作进一步做实，把实事</tspan><tspan x="159.5" dy="17.35">进一步办好，实现制定的帮扶目标，为驻村企</tspan><tspan x="159.5" dy="17.35">业的发展做出更大的贡献。</tspan></text>
</g>
<g id="p4-e3">
<line class="ul" x1="260" y1="3238" x2="435" y2="3238"/>
<text class="t" x="266.8" y="3227.8">二〇一二年十一月二十七日</text>
</g>
</g>
</svg>
